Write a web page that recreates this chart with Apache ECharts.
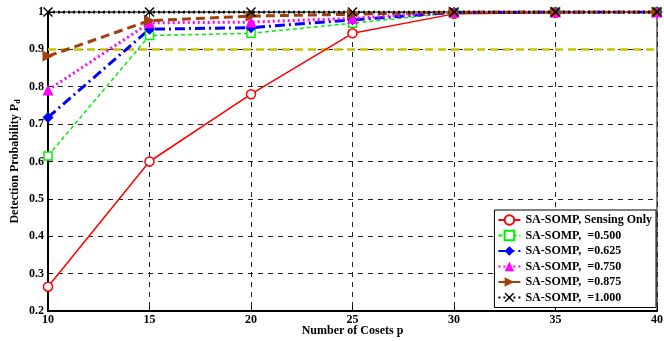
<!DOCTYPE html>
<html><head><meta charset="utf-8">
<script src="https://cdn.jsdelivr.net/npm/echarts@6/dist/echarts.min.js"></script>
<style>html,body{margin:0;padding:0;background:#fff}#c{width:664px;height:341px}</style>
</head><body><div id="c"></div>
<script>
var cosets = [10, 15, 20, 25, 30, 35, 40];
var yTicks = [0.2, 0.3, 0.4, 0.5, 0.6, 0.7, 0.8, 0.9, 1];
var sensingOnly = [0.265, 0.600, 0.780, 0.943, 0.995, 0.998, 1.000];
var eta500 = [0.615, 0.937, 0.943, 0.970, 0.998, 1.000, 1.000];
var eta625 = [0.718, 0.954, 0.958, 0.979, 0.999, 1.000, 1.000];
var eta750 = [0.791, 0.971, 0.973, 0.983, 1.000, 1.000, 1.000];
var eta875 = [0.882, 0.977, 0.989, 0.994, 1.000, 1.000, 1.000];
var eta1000 = [1.000, 1.000, 1.000, 1.000, 1.000, 1.000, 1.000];
var threshold = 0.9;
var names = ['SA-SOMP, Sensing Only', 'SA-SOMP,  =0.500', 'SA-SOMP,  =0.625', 'SA-SOMP,  =0.750', 'SA-SOMP,  =0.875', 'SA-SOMP,  =1.000'];

function pts(arr){ return cosets.map(function(x,i){ return [x, arr[i]]; }); }
var font = '"Liberation Serif","Times New Roman",serif';
var crossPath = 'path://M0,1 L1,0 L5,4 L9,0 L10,1 L6,5 L10,9 L9,10 L5,6 L1,10 L0,9 L4,5 Z';

var chart = echarts.init(document.getElementById('c'), null, {renderer:'canvas'});
function mk(name, data, color, type, width, symbol, size, fill, rot){
  return {
    name: name, type: 'line', data: pts(data),
    symbol: symbol, symbolSize: size, showAllSymbol: true, symbolRotate: rot || 0,
    lineStyle: {color: color, width: width, type: type},
    itemStyle: {color: fill ? color : '#fff', borderColor: color, borderWidth: fill ? 0 : 1.5},
    emphasis: {disabled: true}, animation: false, z: 3
  };
}
var series = [
  {name:'thr', type:'line', data:[[10,threshold],[40,threshold]], symbol:'none',
   lineStyle:{color:'#c8c400', width:2.5, type:[8,5]}, animation:false, z:2, silent:true},
  mk(names[0], sensingOnly, '#ff0000', 'solid', 1.5, 'circle', 9, false),
  mk(names[1], eta500, '#00ee00', [4,3], 1.5, 'rect', 8, false),
  mk(names[2], eta625, '#0000ff', [10,4,2,4], 3, 'diamond', 11, true),
  mk(names[3], eta750, '#ff00ff', [2,3], 3, 'triangle', 11, true),
  mk(names[4], eta875, '#a0400a', [9,5], 3, 'triangle', 11, true, -90),
  mk(names[5], eta1000, '#000000', [2,3], 3, crossPath, 10, true)
];
chart.setOption({
  backgroundColor: '#fff',
  animation: false,
  grid: {left: 48, right: 7, top: 12, bottom: 30, show: true, borderColor: '#000', borderWidth: 1, backgroundColor: 'transparent', containLabel: false, outerBoundsMode: 'none'},
  legend: {
    data: names, orient: 'vertical', right: 8, top: 210,
    backgroundColor: '#fff', borderColor: '#000', borderWidth: 1,
    padding: [4, 4, 4, 3], itemGap: 3.5, itemWidth: 22, itemHeight: 12,
    textStyle: {fontFamily: font, fontWeight: 'bold', fontSize: 12, color: '#000'},
    selectedMode: false
  },
  xAxis: {
    type: 'value', min: 10, max: 40, interval: 5,
    name: 'Number of Cosets p', nameLocation: 'middle', nameGap: 14, nameMoveOverlap: false,
    nameTextStyle: {fontFamily: font, fontWeight: 'bold', fontSize: 12, color: '#000'},
    axisLine: {lineStyle: {color: '#000', width: 2}},
    axisTick: {inside: true, length: 5, lineStyle: {color: '#000'}},
    axisLabel: {fontFamily: font, fontWeight: 'bold', fontSize: 12, color: '#000', margin: 3},
    splitLine: {show: true, lineStyle: {color: '#222', type: [5,5], width: 1}}
  },
  yAxis: {
    type: 'value', min: 0.2, max: 1, interval: 0.1,
    name: '{a|Detection Probability P}{s|d}', nameLocation: 'middle', nameGap: 26, nameMoveOverlap: false,
    nameTextStyle: {fontFamily: font, fontWeight: 'bold', fontSize: 12, color: '#000',
      rich: {a: {fontFamily: font, fontWeight: 'bold', fontSize: 12}, s: {fontFamily: font, fontWeight: 'bold', fontSize: 8, verticalAlign: 'bottom', padding: [6,0,0,0]}}},
    axisLine: {lineStyle: {color: '#000', width: 2}},
    axisTick: {inside: true, length: 5, lineStyle: {color: '#000'}},
    axisLabel: {fontFamily: font, fontWeight: 'bold', fontSize: 12, color: '#000', margin: 4,
      formatter: function(v){ var r = Math.round(v*10)/10; return r === 1 ? '1' : r.toFixed(1); }},
    splitLine: {show: true, lineStyle: {color: '#222', type: [5,5], width: 1}}
  },
  series: series
});
</script></body></html>
